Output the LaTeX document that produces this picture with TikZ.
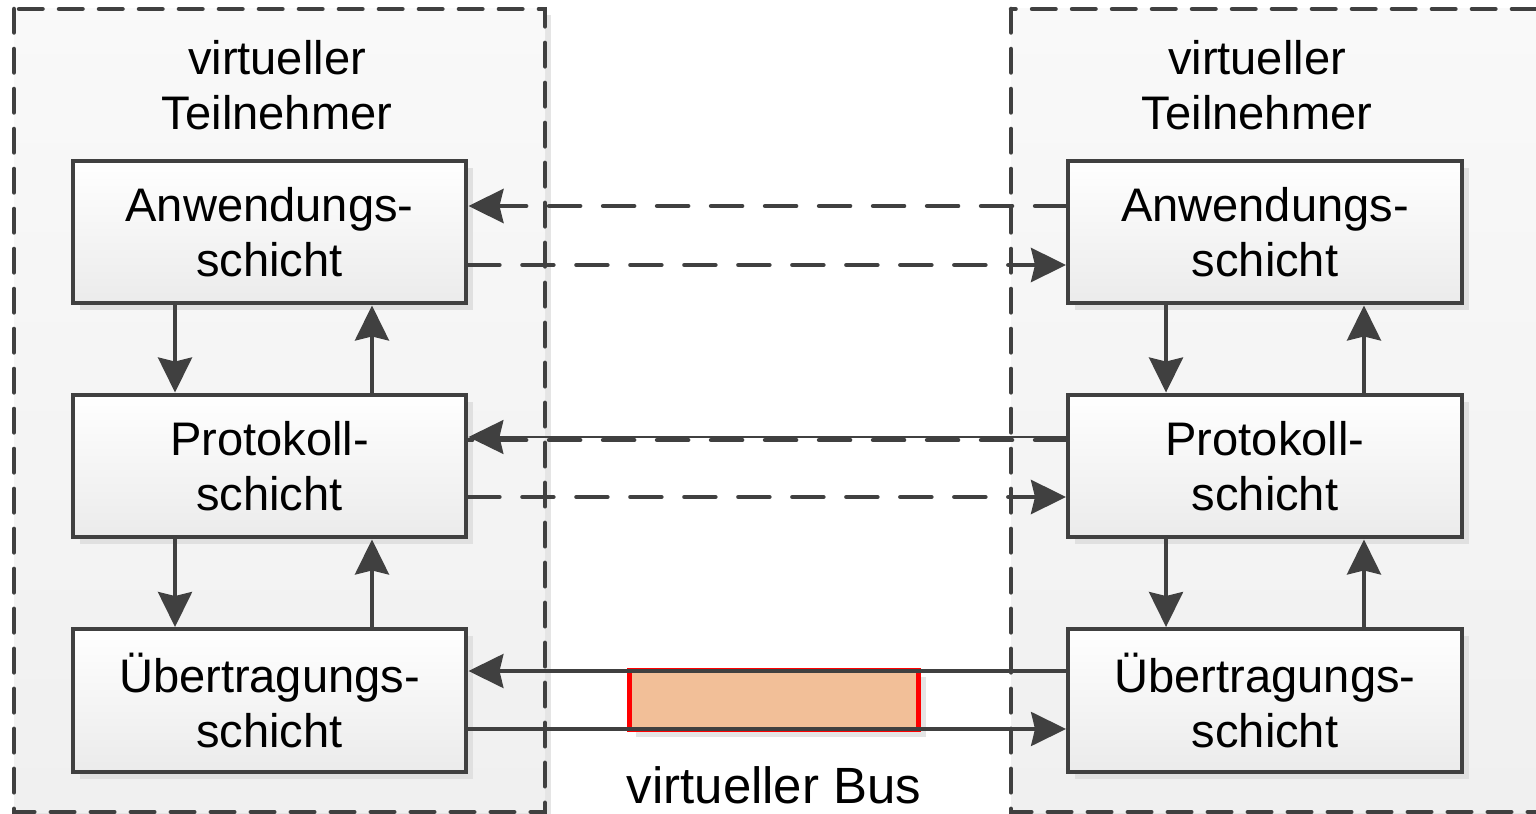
\documentclass[tikz,border=0pt]{standalone}
\usepackage{fontspec}
\setmainfont{Liberation Sans}
\usetikzlibrary{arrows.meta,shadows,positioning}

\definecolor{linegray}{HTML}{404040}
\definecolor{boxgray}{HTML}{EBEBEB}
\definecolor{framegray}{HTML}{F0F0F0}
\definecolor{busfill}{HTML}{F2BF98}

\tikzset{
  frame/.style={draw=linegray,line width=0.09cm,dash pattern=on 0.47cm off 0.33cm,
    line cap=round,top color=white!60!framegray,bottom color=framegray,
    drop shadow={shadow xshift=0.12cm,shadow yshift=-0.12cm,fill=black!10,opacity=1}},
  layer/.style={draw=linegray,line width=0.08cm,top color=white,bottom color=boxgray,
    minimum width=7.88cm,minimum height=2.86cm,inner sep=0pt,align=center,
    font=\fontsize{26.8}{31}\selectfont,
    drop shadow={shadow xshift=0.14cm,shadow yshift=-0.14cm,fill=black!12,opacity=1}},
  title/.style={align=center,inner sep=0pt,font=\fontsize{26.8}{31.5}\selectfont},
  link/.style={draw=linegray,line width=0.07cm,-{Stealth[length=0.7cm,width=0.68cm,inset=0.08cm]}},
  dashlink/.style={link,line width=0.09cm,dash pattern=on 0.62cm off 0.46cm,line cap=round},
}

\begin{document}
\begin{tikzpicture}[x=0.02cm,y=-0.02cm]
  \useasboundingbox (0,0) rectangle (1536,814);
  \fill[white] (0,0) rectangle (1536,814);

  \path[frame] (14,9) rectangle (545,812);
  \path[frame] (1011,9) rectangle (1570,812);

  \node[title] (titleL) at (277,85) {virtueller\\Teilnehmer};
  \node[title] (titleR) at (1257,85) {virtueller\\Teilnehmer};

  \node[draw=red,line width=0.1cm,fill=busfill,minimum width=5.8cm,minimum height=1.2cm,
    drop shadow={shadow xshift=0.14cm,shadow yshift=-0.14cm,fill=black!10,opacity=1}]
    (bus) at (774,700) {};
  \node[title,font=\fontsize{29}{32}\selectfont] (buslabel) at (774,785) {virtueller Bus};

  \node[layer] (anwL)  at (269.5,232)   {Anwendungs-\\schicht};
  \node[layer] (protL) at (269.5,466)   {Protokoll-\\schicht};
  \node[layer] (uebL)  at (269.5,700.5) {Übertragungs-\\schicht};
  \node[layer] (anwR)  at (1265,232)    {Anwendungs-\\schicht};
  \node[layer] (protR) at (1265,466)    {Protokoll-\\schicht};
  \node[layer] (uebR)  at (1265,700.5)  {Übertragungs-\\schicht};

  \draw[link] ([xshift=-1.89cm]anwL.south)  -- ([xshift=-1.89cm]protL.north);
  \draw[link] ([xshift=2.05cm]protL.north)  -- ([xshift=2.05cm]anwL.south);
  \draw[link] ([xshift=-1.89cm]protL.south) -- ([xshift=-1.89cm]uebL.north);
  \draw[link] ([xshift=2.05cm]uebL.north)   -- ([xshift=2.05cm]protL.south);
  \draw[link] ([xshift=-1.98cm]anwR.south)  -- ([xshift=-1.98cm]protR.north);
  \draw[link] ([xshift=1.98cm]protR.north)  -- ([xshift=1.98cm]anwR.south);
  \draw[link] ([xshift=-1.98cm]protR.south) -- ([xshift=-1.98cm]uebR.north);
  \draw[link] ([xshift=1.98cm]uebR.north)   -- ([xshift=1.98cm]protR.south);

  \draw[dashlink] ([yshift=0.52cm]anwR.west)  -- ([yshift=0.52cm]anwL.east);
  \draw[dashlink] ([yshift=-0.66cm]anwL.east) -- ([yshift=-0.66cm]anwR.west);
  \draw[draw=linegray,line width=0.09cm,dash pattern=on 0.62cm off 0.46cm,line cap=round]
    ([yshift=0.52cm]protR.west) -- ([yshift=0.52cm]protL.east);
  \draw[link,line width=0.05cm] ([yshift=0.58cm]protR.west) -- ([yshift=0.58cm]protL.east);
  \draw[dashlink] ([yshift=-0.62cm]protL.east) -- ([yshift=-0.62cm]protR.west);
  \draw[link] ([yshift=0.59cm]uebR.west)  -- ([yshift=0.59cm]uebL.east);
  \draw[link] ([yshift=-0.57cm]uebL.east) -- ([yshift=-0.57cm]uebR.west);
\end{tikzpicture}
\end{document}
